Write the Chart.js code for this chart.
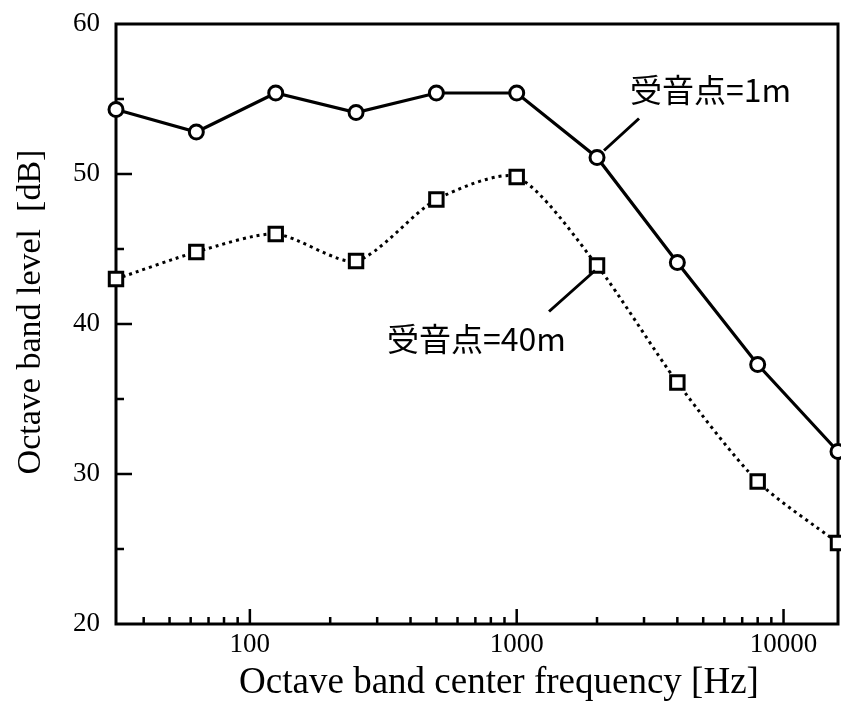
<!DOCTYPE html>
<html>
<head>
<meta charset="utf-8">
<script src="https://cdn.jsdelivr.net/npm/chart.js@4"></script>
<style>
  html, body { margin: 0; padding: 0; background: #fff; overflow: hidden; }
  canvas { display: block; }
</style>
</head>
<body>
<canvas id="octave" width="841" height="710"></canvas>
<script>
var freqs = [31.5, 63, 125, 250, 500, 1000, 2000, 4000, 8000, 16000];
var level1m = [54.3, 52.8, 55.4, 54.1, 55.4, 55.4, 51.1, 44.1, 37.3, 31.5];
var level40m = [43.0, 44.8, 46.0, 44.2, 48.3, 49.8, 43.9, 36.1, 29.5, 25.4];
var seriesNames = ["受音点=1m", "受音点=40m"];
var xTitle = "Octave band center frequency [Hz]";
var yTitle = "Octave band level  [dB]";

var xTickValues = [40, 50, 60, 70, 80, 90, 100, 200, 300, 400, 500, 600, 700, 800, 900,
                   1000, 2000, 3000, 4000, 5000, 6000, 7000, 8000, 9000, 10000];
var xLabelValues = [100, 1000, 10000];
var yLabelValues = [20, 30, 40, 50, 60];

function pts(vals) {
   return freqs.map(function (f, i) { return { x: f, y: vals[i] }; });
}

// no extra room for edge labels, the layout padding decides the plot box
function noEdgePadding(scale) {
   scale.paddingLeft = 0;
   scale.paddingRight = 0;
   scale.paddingTop = 0;
   scale.paddingBottom = 0;
}

// inward ticks + box around the plot, labels and axis titles
var frameTicks = {
   id: "frameTicks",
   beforeDatasetsDraw: function (chart) {
      var ctx = chart.ctx, a = chart.chartArea;
      var xs = chart.scales.x, ys = chart.scales.y;
      ctx.save();
      ctx.strokeStyle = "#000";
      ctx.lineWidth = 3;
      ctx.strokeRect(a.left, a.top, a.right - a.left, a.bottom - a.top);
      ctx.lineWidth = 2.5;
      ctx.beginPath();
      xTickValues.forEach(function (v) {
         var px = xs.getPixelForValue(v);
         var len = xLabelValues.indexOf(v) >= 0 ? 15 : 7;
         ctx.moveTo(px, a.bottom);
         ctx.lineTo(px, a.bottom - len);
      });
      ys.ticks.forEach(function (t) {
         if (t.value <= ys.min || t.value >= ys.max) return;
         var py = ys.getPixelForValue(t.value);
         var len = yLabelValues.indexOf(t.value) >= 0 ? 16 : 8;
         ctx.moveTo(a.left, py);
         ctx.lineTo(a.left + len, py);
      });
      ctx.stroke();
      ctx.restore();
   },
   afterDatasetsDraw: function (chart) {
      var ctx = chart.ctx;
      var xs = chart.scales.x, ys = chart.scales.y;
      var p1 = { x: xs.getPixelForValue(2000), y: ys.getPixelForValue(level1m[6]) };
      var p2 = { x: xs.getPixelForValue(2000), y: ys.getPixelForValue(level40m[6]) };
      ctx.save();
      ctx.strokeStyle = "#000";
      ctx.lineWidth = 3;
      ctx.beginPath();
      ctx.moveTo(p1.x + 7, p1.y - 7);
      ctx.lineTo(p1.x + 42, p1.y - 39);
      ctx.moveTo(p2.x - 2, p2.y + 5);
      ctx.lineTo(p2.x - 48, p2.y + 46);
      ctx.stroke();
      ctx.fillStyle = "#000";
      ctx.font = "32px 'Noto Sans CJK JP'";
      ctx.textBaseline = "middle";
      ctx.textAlign = "left";
      ctx.fillText(seriesNames[0], 630, 90);
      ctx.fillText(seriesNames[1], 387, 339);

      ctx.textAlign = "center";
      ctx.font = "37px 'Liberation Serif'";
      ctx.fillText(xTitle, 499, 683);
      ctx.translate(31, 312);
      ctx.rotate(-Math.PI / 2);
      ctx.font = "34px 'Liberation Serif'";
      ctx.fillText(yTitle, 0, 0);
      ctx.restore();
   }
};

new Chart("octave", {
   type: "line",
   data: {
      datasets: [{
         label: seriesNames[0],
         data: pts(level1m),
         borderColor: "#000",
         borderWidth: 3.2,
         tension: 0,
         pointStyle: "circle",
         pointRadius: 7,
         pointBorderWidth: 3,
         pointBackgroundColor: "#fff",
         pointBorderColor: "#000",
         clip: false
      }, {
         label: seriesNames[1],
         data: pts(level40m),
         borderColor: "#000",
         borderWidth: 3,
         borderDash: [3, 4],
         borderCapStyle: "butt",
         tension: 0.25,
         pointStyle: "rect",
         pointRadius: 9.5,
         pointBorderWidth: 3,
         pointBackgroundColor: "#fff",
         pointBorderColor: "#000",
         clip: false
      }]
   },
   options: {
      responsive: false,
      animation: false,
      devicePixelRatio: 1,
      layout: { autoPadding: false, padding: { left: 0, right: 3, top: 24, bottom: 0 } },
      plugins: {
         legend: { display: false },
         tooltip: { enabled: false }
      },
      scales: {
         x: {
            type: "logarithmic",
            min: 31.5,
            max: 16000,
            afterBuildTicks: function (scale) {
               scale.ticks = xTickValues.map(function (v) { return { value: v }; });
            },
            afterFit: function (scale) { scale.height = 86; noEdgePadding(scale); },
            grid: { display: false, drawTicks: false },
            border: { display: false },
            ticks: {
               autoSkip: false,
               maxRotation: 0,
               padding: 5,
               color: "#000",
               font: { family: "'Liberation Serif'", size: 27 },
               callback: function (v) { return xLabelValues.indexOf(v) >= 0 ? String(v) : ""; }
            }
         },
         y: {
            min: 20,
            max: 60,
            afterFit: function (scale) { scale.width = 116; noEdgePadding(scale); },
            grid: { display: false, drawTicks: false },
            border: { display: false },
            ticks: {
               stepSize: 5,
               padding: 16,
               color: "#000",
               font: { family: "'Liberation Serif'", size: 27 },
               callback: function (v) { return yLabelValues.indexOf(v) >= 0 ? String(v) : ""; }
            }
         }
      }
   },
   plugins: [frameTicks]
});
</script>
</body>
</html>
